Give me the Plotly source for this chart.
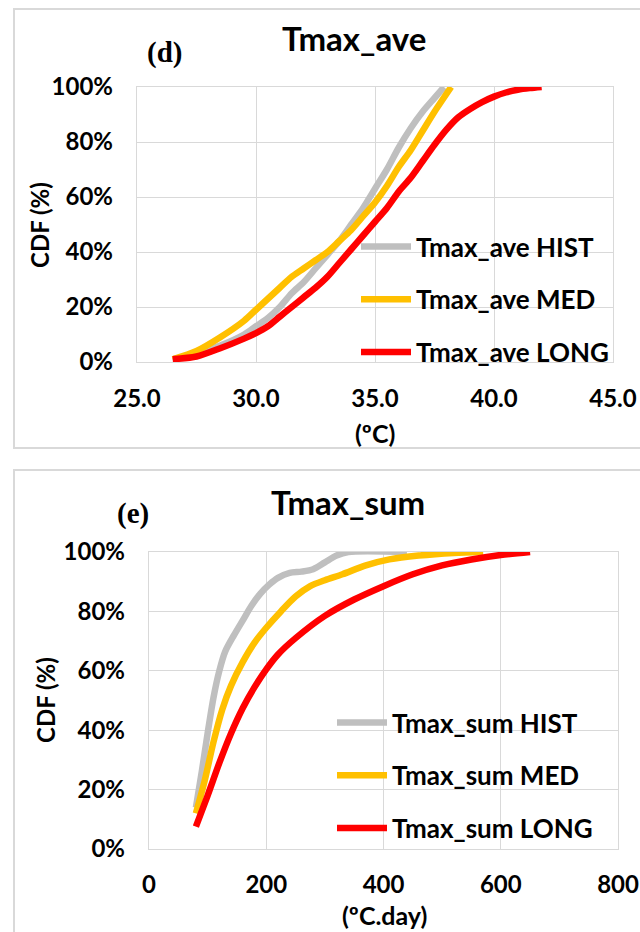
import plotly.graph_objects as go

# ---------------- data ----------------
# (d) Tmax_ave : CDF (%) against temperature (ºC)
ave_hist_x = [26.5, 27.5, 28.5, 29.5, 30.0, 30.5, 31.0, 31.5, 32.0, 32.5, 33.0, 33.5,
              34.0, 34.5, 35.0, 35.5, 36.0, 36.5, 37.0, 37.5, 37.9]
ave_hist_y = [1, 3, 6, 10, 13, 16, 20, 25, 29, 34, 39, 44, 50, 56, 63, 70, 78, 85, 91, 96, 100]

ave_med_x = [26.5, 27.5, 28.5, 29.5, 30.0, 30.5, 31.0, 31.5, 32.0, 32.5, 33.0, 33.5,
             34.0, 34.5, 35.0, 35.5, 36.0, 36.5, 37.0, 37.5, 38.2]
ave_med_y = [1, 4, 9, 15, 19, 23, 27, 31, 34, 37, 40, 44, 48, 53, 58, 64, 71, 77, 84, 91, 100]

ave_long_x = [26.5, 27.5, 28.5, 29.5, 30.0, 30.5, 31.0, 31.5, 32.0, 32.5, 33.0, 33.5,
              34.0, 34.5, 35.0, 35.5, 36.0, 36.5, 37.0, 37.5, 38.0, 38.5, 39.0, 39.5,
              40.0, 40.5, 41.0, 41.5, 42.0]
ave_long_y = [1, 2, 5, 8.5, 10.5, 13, 16.5, 20, 23.5, 27, 31, 36, 41, 46, 51, 56, 62, 67,
              73, 79, 84.5, 89, 92, 94.5, 96.5, 98, 99, 99.6, 100]

# (e) Tmax_sum : CDF (%) against accumulated temperature (ºC.day)
sum_hist_x = [80, 90, 100, 110, 120, 130, 145, 160, 175, 190, 205, 220, 240, 260, 280,
              300, 320, 340, 440]
sum_hist_y = [14, 26, 39, 51, 60, 66.5, 72, 77, 82, 86, 89, 91.3, 93, 93.4, 94.2,
              96.5, 98.8, 100, 100]

sum_med_x = [80, 95, 110, 125, 140, 160, 180, 200, 225, 250, 275, 300, 330, 370, 410,
             460, 520, 570]
sum_med_y = [12, 23, 36, 47, 55, 63, 69.5, 74.5, 80, 85, 88.5, 90.5, 92.5, 95.5, 97.5,
             98.8, 99.7, 100]

sum_long_x = [80, 100, 120, 140, 160, 180, 200, 220, 250, 300, 350, 400, 450, 500, 550, 600, 650]
sum_long_y = [7.5, 18, 29, 39, 47.5, 54.5, 60.5, 65.5, 71, 78.5, 84, 88.5, 92.5, 95.5, 97.5, 99, 100]

scenarios = ["HIST", "MED", "LONG"]
colors = ["#bfbfbf", "#ffc000", "#ff0000"]

ave_tickvals = [25, 30, 35, 40, 45]
ave_ticktext = ["25.0", "30.0", "35.0", "40.0", "45.0"]
sum_tickvals = [0, 200, 400, 600, 800]
sum_ticktext = ["0", "200", "400", "600", "800"]
cdf_tickvals = [0, 20, 40, 60, 80, 100]
cdf_ticktext = ["0%", "20%", "40%", "60%", "80%", "100%"]

# ---------------- layout helpers ----------------
W, H = 640, 932


def px(x):
    return x / W


def py(y):
    return 1 - y / H


FONT = "Lato"
GRID = "#d9d9d9"
TXT = "#000000"

fig = go.Figure()

ave_series = [(ave_hist_x, ave_hist_y), (ave_med_x, ave_med_y), (ave_long_x, ave_long_y)]
sum_series = [(sum_hist_x, sum_hist_y), (sum_med_x, sum_med_y), (sum_long_x, sum_long_y)]

for (xs, ys), name, col in zip(ave_series, scenarios, colors):
    fig.add_trace(go.Scatter(
        x=xs, y=ys, mode="lines", name=f"Tmax_ave {name}",
        line=dict(color=col, width=6.5, shape="spline", smoothing=0.8),
        xaxis="x", yaxis="y", legend="legend", legendgroup=f"ave{name}",
        hoverinfo="skip"))

for (xs, ys), name, col in zip(sum_series, scenarios, colors):
    fig.add_trace(go.Scatter(
        x=xs, y=ys, mode="lines", name=f"Tmax_sum {name}",
        line=dict(color=col, width=6.5, shape="spline", smoothing=0.8),
        xaxis="x2", yaxis="y2", legend="legend2", legendgroup=f"sum{name}",
        hoverinfo="skip"))

tickfont = dict(family=FONT, size=24, color=TXT, weight="bold")

common_axis = dict(
    showgrid=True, gridcolor=GRID, gridwidth=1.3,
    showline=True, linecolor=GRID, linewidth=1.3, mirror=True,
    zeroline=False, ticks="", tickfont=tickfont, fixedrange=True,
    automargin=False, tickmode="array",
)

legend_common = dict(
    font=dict(family=FONT, size=26, color=TXT, weight="bold"),
    bgcolor="rgba(0,0,0,0)", borderwidth=0, itemwidth=50,
    tracegroupgap=16, xanchor="left", yanchor="top",
    traceorder="grouped",
)

fig.update_layout(
    width=W, height=H,
    margin=dict(l=0, r=0, t=0, b=0, autoexpand=False),
    paper_bgcolor="white", plot_bgcolor="white",
    showlegend=True,
    xaxis=dict(domain=[px(137), px(613)], range=[25, 45], tickvals=ave_tickvals,
               ticktext=ave_ticktext, anchor="y", ticklabelstandoff=15, **common_axis),
    yaxis=dict(domain=[py(362), py(87)], range=[0, 100], tickvals=cdf_tickvals,
               ticktext=cdf_ticktext, anchor="x", ticklabelstandoff=18, **common_axis),
    xaxis2=dict(domain=[px(149), px(618)], range=[0, 800], tickvals=sum_tickvals,
                ticktext=sum_ticktext, anchor="y2", ticklabelstandoff=14, **common_axis),
    yaxis2=dict(domain=[py(849), py(552)], range=[0, 100], tickvals=cdf_tickvals,
                ticktext=cdf_ticktext, anchor="x2", ticklabelstandoff=18, **common_axis),
    legend=dict(x=px(356), y=py(223), **legend_common),
    legend2=dict(x=px(332), y=py(699), **legend_common),
)

# panel frames
fig.add_shape(type="rect", xref="paper", yref="paper",
              x0=px(14), x1=px(660), y0=py(448), y1=py(9),
              line=dict(color="#d9d9d9", width=2), layer="below")
fig.add_shape(type="rect", xref="paper", yref="paper",
              x0=px(14), x1=px(660), y0=py(950), y1=py(470),
              line=dict(color="#d9d9d9", width=2), layer="below")


def label(text, x, y, size, family=FONT, angle=0, weight="bold"):
    fig.add_annotation(text=text, x=px(x), y=py(y), xref="paper", yref="paper",
                       showarrow=False, textangle=angle, xanchor="center", yanchor="middle",
                       font=dict(family=family, size=size, color=TXT, weight=weight))


# titles, panel letters and axis titles
label("Tmax_ave", 354, 38, 33)
label("(d)", 164, 53, 29, family="Liberation Serif")
label("(ºC)", 375, 433, 25)
label("CDF (%)", 39, 225, 24, angle=-90)

label("Tmax_sum", 348, 502, 33)
label("(e)", 133, 513, 29, family="Liberation Serif")
label("(ºC.day)", 384, 915, 25)
label("CDF (%)", 45, 700, 24, angle=-90)

fig.write_html("out.html")
